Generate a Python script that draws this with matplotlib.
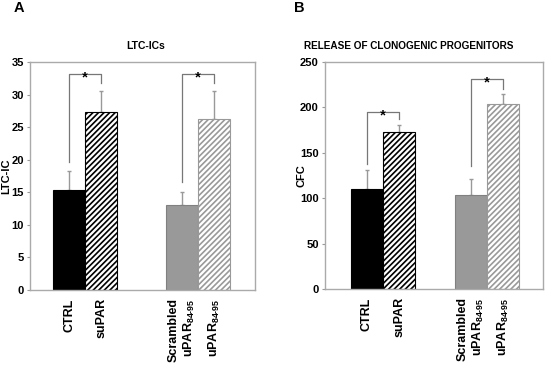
import matplotlib
matplotlib.use("Agg")
import matplotlib.pyplot as plt

plt.rcParams['font.family'] = ['Liberation Sans', 'DejaVu Sans']
plt.rcParams['font.weight'] = 'bold'
plt.rcParams['hatch.linewidth'] = 1.2
plt.rcParams['mathtext.fontset'] = 'custom'
plt.rcParams['mathtext.rm'] = 'Liberation Sans'
plt.rcParams['mathtext.it'] = 'Liberation Sans'
plt.rcParams['mathtext.bf'] = 'Liberation Sans:bold'

# data
groups = ['CTRL', 'suPAR', 'Scrambled\nuPAR$_{\\mathrm{84\\text{-}95}}$', 'uPAR$_{\\mathrm{84\\text{-}95}}$']

ltc_mean = [15.4, 27.4, 13.1, 26.3]
ltc_err = [2.9, 3.2, 1.9, 4.3]
ltc_brackets = [(19.6, 33.2, 31.7), (16.6, 33.2, 31.7)]  # left start, top, right end

cfc_mean = [110, 173, 104, 204]
cfc_err = [21, 8, 17, 11]
cfc_brackets = [(138, 195, 187), (135, 231, 220)]

# styles
face = ['black', 'white', '#999999', 'white']
edge = ['black', 'black', '#808080', '#999999']
hatch = [None, '//////', None, '//////']
grey = '#999999'


def panel(ax, pos, means, errs, brackets, xmax, ymax, step, ylabel, label_x):
    for x, m, e, fc, ec, h in zip(pos, means, errs, face, edge, hatch):
        ax.bar(x, m, width=1.0, color=fc, edgecolor=ec, hatch=h, linewidth=0.8, zorder=2)
        ax.errorbar(x, m, yerr=[[0], [e]], color=grey, capsize=1.5, elinewidth=1,
                    capthick=1, zorder=1)
    for i, (lo, top, hi) in enumerate(brackets):
        xl = pos[2 * i]
        xr = pos[2 * i + 1]
        ax.plot([xl, xl, xr, xr], [lo, top, top, hi], color='#777777', lw=0.9, zorder=3)
        ax.annotate('*', ((xl + xr) / 2, top), xytext=(0, -2.5), textcoords='offset points',
                    ha='center', va='center', fontsize=11, fontweight='bold', zorder=4,
                    bbox=dict(facecolor='white', edgecolor='none', pad=0.2))
    ax.set_xlim(0, xmax)
    ax.set_ylim(0, ymax)
    ax.set_yticks(range(0, ymax + 1, step))
    ax.set_xticks(pos)
    ax.set_xticklabels(groups, rotation=90, fontsize=9, fontweight='bold', ma='right')
    ax.tick_params(axis='x', length=0, pad=6)
    ax.tick_params(axis='y', length=2.5, width=0.8, color=grey, labelsize=8, pad=2)
    for s in ax.spines.values():
        s.set_color('#aaaaaa')
        s.set_linewidth(1)
    ax.set_ylabel(ylabel, fontsize=8, fontweight='bold')
    ax.yaxis.set_label_coords(label_x, 0.5)


fig = plt.figure(figsize=(5.5, 3.69), dpi=100)
axA = fig.add_axes([0.0545, 0.214, 0.409, 0.618])
axB = fig.add_axes([0.591, 0.217, 0.396, 0.615])

panel(axA, [1.216, 2.216, 4.73, 5.73], ltc_mean, ltc_err, ltc_brackets, 7.0, 35, 5, 'LTC-IC', -0.085)
panel(axB, [1.30, 2.30, 4.52, 5.52], cfc_mean, cfc_err, cfc_brackets, 6.75, 250, 50, 'CFC', -0.085)

fig.text(146 / 550, 1 - 46 / 369, 'LTC-ICs', ha='center', va='center', fontsize=7.5, fontweight='bold')
fig.text(409 / 550, 1 - 46 / 369, 'RELEASE OF CLONOGENIC PROGENITORS', ha='center', va='center',
         fontsize=7.2, fontweight='bold')
fig.text(14 / 550, 1 - 8 / 369, 'A', ha='left', va='center', fontsize=10.5, fontweight='bold')
fig.text(294 / 550, 1 - 8 / 369, 'B', ha='left', va='center', fontsize=10.5, fontweight='bold')

fig.savefig('out.png', dpi=100)
